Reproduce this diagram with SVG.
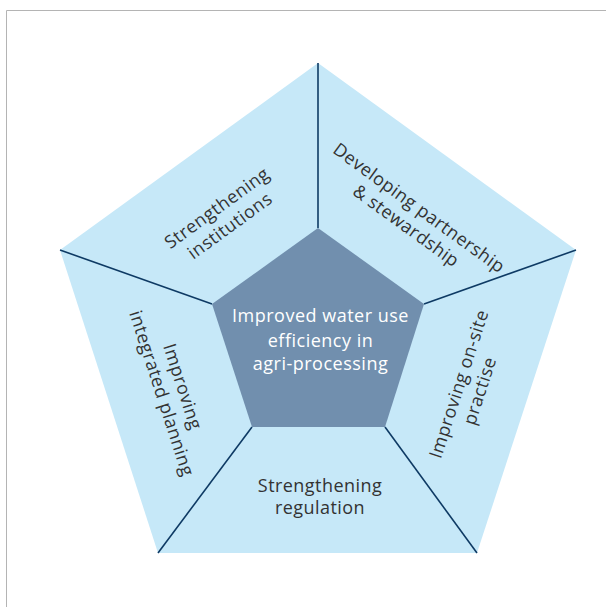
<svg xmlns="http://www.w3.org/2000/svg" width="606" height="607" viewBox="0 0 606 607">
<style>
.lbl{font-family:"Open Sans","Noto Sans","Liberation Sans",sans-serif;font-size:18px;letter-spacing:0.45px;fill:#333333;text-anchor:middle}
.ctr{font-family:"Open Sans","Noto Sans","Liberation Sans",sans-serif;font-size:18px;letter-spacing:0.5px;fill:#ffffff;text-anchor:middle}
.div{stroke:#0e3a64;stroke-width:1.6;fill:none}
</style>
<rect x="0" y="0" width="606" height="607" fill="#ffffff"/>
<path d="M6.5,607 V10.5 H606" fill="none" stroke="#b4b4b4" stroke-width="1"/>
<g id="outer">
<polygon points="318,63 576,250 477,553 158,553 60,250" fill="#c6e8f8"/>
</g>
<g id="connectors">
<line class="div" x1="318" y1="63" x2="318" y2="228"/>
<line class="div" x1="60" y1="250" x2="212" y2="304"/>
<line class="div" x1="576" y1="250" x2="424" y2="304"/>
<line class="div" x1="158" y1="553" x2="252" y2="427"/>
<line class="div" x1="477" y1="553" x2="385" y2="427"/>
</g>
<g id="center">
<polygon points="318,228 424,304 385,427 252,427 212,304" fill="#718fae"/>
<text class="ctr" x="320.5" y="322">Improved water use</text>
<text class="ctr" x="320.5" y="346.5">efficiency in</text>
<text class="ctr" x="320.5" y="370">agri-processing</text>
</g>
<g id="strengthening-institutions" transform="translate(223.5,217) rotate(-36)">
<text class="lbl" x="0" y="-5">Strengthening</text>
<text class="lbl" x="0" y="17">institutions</text>
</g>
<g id="developing-partnership" transform="translate(412.5,217) rotate(36)">
<text class="lbl" x="0" y="-5">Developing partnership</text>
<text class="lbl" x="0" y="17">&amp; stewardship</text>
</g>
<g id="improving-onsite" transform="translate(469.5,387.5) rotate(-72)">
<text class="lbl" x="0" y="-5">Improving on-site</text>
<text class="lbl" x="0" y="17">practise</text>
</g>
<g id="improving-planning" transform="translate(172,390) rotate(72)">
<text class="lbl" x="0" y="-5">Improving</text>
<text class="lbl" x="0" y="17">integrated planning</text>
</g>
<g id="strengthening-regulation">
<text class="lbl" x="320" y="491.5">Strengthening</text>
<text class="lbl" x="320" y="514">regulation</text>
</g>
</svg>
